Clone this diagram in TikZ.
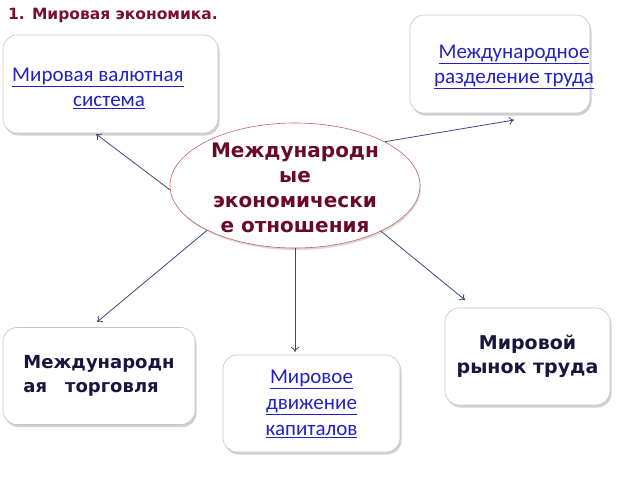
\documentclass[tikz,border=0pt]{standalone}
\usepackage{fontspec}
\setmainfont{DejaVu Sans}
\newfontfamily\linkfont{Carlito}
\usetikzlibrary{shapes.geometric,shadows,arrows.meta}
\definecolor{titlered}{HTML}{7A1030}
\definecolor{ovalred}{HTML}{6A0828}
\definecolor{ovaledge}{HTML}{C86464}
\definecolor{linkblue}{HTML}{2222C4}
\definecolor{boxtext}{HTML}{16163E}
\definecolor{arrowblue}{HTML}{3A4A80}
\definecolor{boxedge}{HTML}{C4C4C4}
\tikzset{
  topic/.style={draw=boxedge, fill=white, rounded corners=14pt, line width=0.6pt,
    drop shadow={shadow xshift=1.5pt, shadow yshift=-2.5pt, opacity=0.3, fill=black!60}},
  link/.style={font=\linkfont\fontsize{21}{25}\selectfont, text=linkblue, inner sep=0pt},
  plain/.style={font=\bfseries\fontsize{19}{24}\selectfont, text=boxtext, align=center},
  tie/.style={draw=arrowblue, line width=0.8pt, -{To[length=5pt,width=8pt]}}
}
\begin{document}
\begin{tikzpicture}[x=1pt,y=-1pt]
  \useasboundingbox (0,0) rectangle (640,480);
  \node[anchor=west, inner sep=0pt, text=titlered, font=\bfseries\fontsize{15.5}{18}\selectfont]
    (title) at (8,15) {1. Мировая экономика.};
  % boxes
  \node[topic, minimum width=215pt, minimum height=98pt] (valbox) at (110.5,84) {};
  \node[link, anchor=west, align=left] (valtext) at (12,88)
    {\underline{Мировая валютная}\\\hspace*{61pt}\underline{система}};
  \node[topic, minimum width=180pt, minimum height=98pt] (divbox) at (500,64) {};
  \node[link, align=center] (divtext) at (514,67)
    {\underline{Международное}\\\underline{разделение труда}};
  \node[topic, plain, align=left, font=\bfseries\fontsize{18}{24}\selectfont,
    minimum width=192pt, minimum height=97pt] (tradebox) at (99,376)
    {Международн\\ая\quad торговля};
  \node[topic, link, align=center, minimum width=177pt, minimum height=97pt] (capbox) at (311.5,403.5)
    {\underline{Мировое}\\[1pt]\underline{движение}\\[1pt]\underline{капиталов}};
  \node[topic, plain, minimum width=165pt, minimum height=97pt] (labbox) at (527.5,356.5)
    {Мировой\\рынок труда};
  % centre
  \node[ellipse, draw=ovaledge, fill=white, line width=0.6pt, minimum width=250pt, minimum height=125pt,
    drop shadow={shadow xshift=1pt, shadow yshift=-2pt, opacity=0.25, fill=black!60}] (eco) at (295,185.5) {};
  \node[text=ovalred, align=center, font=\bfseries\fontsize{20}{25}\selectfont] (ecotext) at (295,188)
    {Международн\\ые\\экономически\\е отношения};
  % arrow ends
  \coordinate (valend) at (96,134);
  \coordinate (divend) at (514,120);
  \coordinate (tradeend) at (97,322);
  \coordinate (capend) at (295,352);
  \coordinate (labend) at (465,300);
  \draw[tie] (eco.182) -- (valend);
  \draw[tie] (eco.26) -- (divend);
  \draw[tie] (eco.207) -- (tradeend);
  \draw[tie] (eco.south) -- (capend);
  \draw[tie] (eco.332) -- (labend);
\end{tikzpicture}
\end{document}
